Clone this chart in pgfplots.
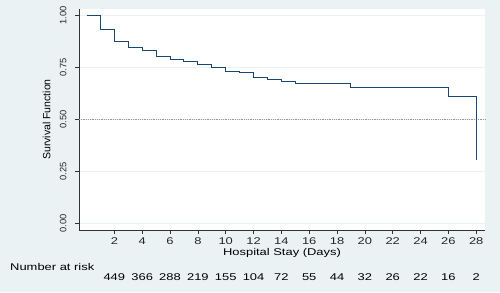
\documentclass[border=0pt]{standalone}
\usepackage{pgfplots}
\pgfplotsset{compat=1.18}
\usepackage{graphicx}
\usepackage{fontspec}
\setmainfont{Liberation Sans}
\definecolor{bgc}{RGB}{234,242,243}
\definecolor{navy}{RGB}{26,71,111}
\newcommand\wx[1]{\scalebox{1.32}[1]{#1}}
\newcommand\fs{\fontsize{9.8bp}{11bp}\selectfont}
\begin{document}
\fs
\begin{tikzpicture}[x=1bp,y=1bp]
\fill[bgc] (0,0) rectangle (500,292);
\fill[white] (79,62) rectangle (485,283);
\begin{axis}[
  at={(79bp,62bp)}, anchor=south west,
  scale only axis, width=406bp, height=221bp,
  xmin=-0.54, xmax=28.63, ymin=-0.032, ymax=1.03,
  axis x line*=bottom, axis y line*=left,
  axis line style={black!80, line width=0.8bp},
  xtick={2,4,...,28},
  xticklabels={\wx{2},\wx{4},\wx{6},\wx{8},\wx{10},\wx{12},\wx{14},\wx{16},\wx{18},\wx{20},\wx{22},\wx{24},\wx{26},\wx{28}},
  ytick={0,0.25,0.5,0.75,1},
  yticklabels={0.00,0.25,0.50,0.75,1.00},
  tick align=outside, major tick length=4bp,
  tick style={black!80, line width=0.6bp},
  /pgf/number format/assume math mode=true,
  xticklabel style={font=\fs, text=black!85},
  yticklabel style={font=\fontsize{9.3bp}{11bp}\selectfont, text=black!85, xshift=-5bp, rotate=90, anchor=south},
  ymajorgrids, grid style={bgc, line width=0.8bp},
  ylabel={Survival Function},
  ylabel style={font=\fontsize{10.5bp}{12bp}\selectfont, at={(axis description cs:-0.0796,0.5)}, rotate=0, anchor=center},
  xlabel={\wx{Hospital Stay (Days)}},
  xlabel style={font=\fs, at={(axis description cs:0.5,0)}, anchor=center, yshift=-22.7bp},
  clip=false,
]
\addplot[gray!80, densely dotted, line width=0.8bp] coordinates {(-0.54,0.5) (28.63,0.5)};
\addplot[navy, const plot, line width=1bp] coordinates {
(0,1.000) (1,0.933) (2,0.875) (3,0.843) (4,0.830) (5,0.801) (6,0.787) (7,0.777)
(8,0.762) (9,0.748) (10,0.732) (11,0.723) (12,0.699) (13,0.692) (14,0.683)
(15,0.671) (19,0.654) (26,0.611) (28,0.303)};
\end{axis}
\node[anchor=west, inner sep=0] at (10,25.3) {\wx{Number at risk}};
\foreach \d/\n in {2/449,4/366,6/288,8/219,10/155,12/104,14/72,16/55,18/44,20/32,22/26,24/22,26/16,28/2}
  \node[inner sep=0] at ({86.5+13.92*\d},14.7) {\wx{\n}};
\end{tikzpicture}
\end{document}
